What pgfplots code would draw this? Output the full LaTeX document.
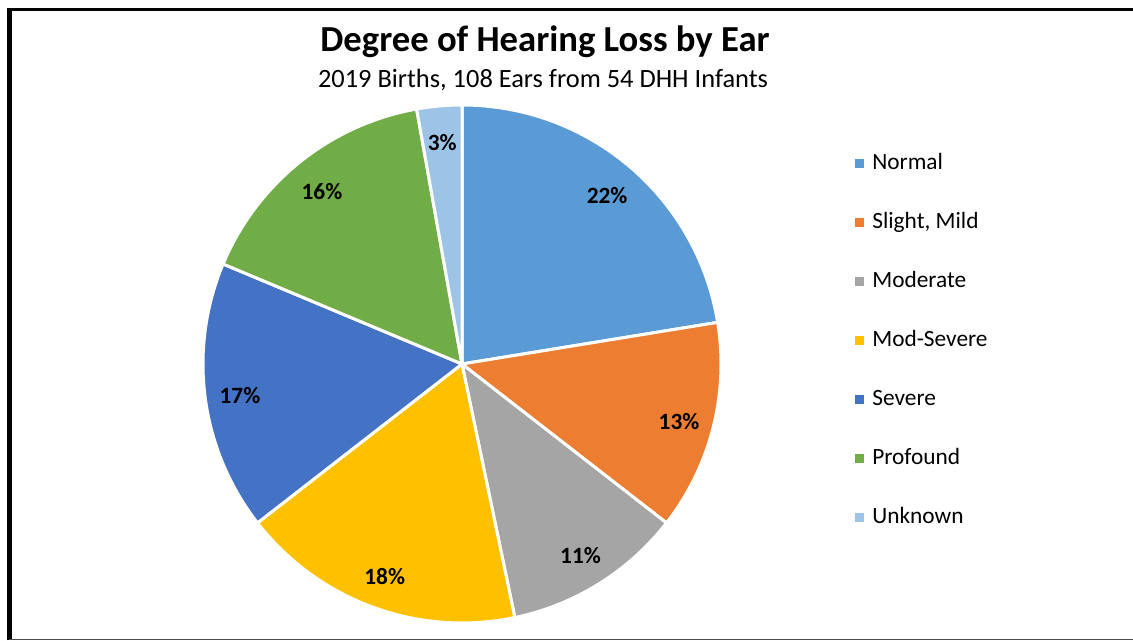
\documentclass[border=0pt]{standalone}
\usepackage{pgfplots}
\pgfplotsset{compat=1.18}
\usepackage{pgfplotstable}
\usepackage{fontspec}
\setmainfont{Carlito}
\definecolor{cNormal}{HTML}{5B9BD5}
\definecolor{cSlight}{HTML}{ED7D31}
\definecolor{cModerate}{HTML}{A5A5A5}
\definecolor{cModSevere}{HTML}{FFC000}
\definecolor{cSevere}{HTML}{4472C4}
\definecolor{cProfound}{HTML}{70AD47}
\definecolor{cUnknown}{HTML}{9DC3E6}
\newcommand\lblfont{\fontsize{17.5}{20}\selectfont}

% number of ears in each category
\pgfplotstableread[col sep=semicolon]{
name;ears;col
Normal;24;cNormal
Slight, Mild;14;cSlight
Moderate;12;cModerate
Mod-Severe;19;cModSevere
Severe;18;cSevere
Profound;17;cProfound
Unknown;3;cUnknown
}\piedata

\begin{document}
\begin{tikzpicture}
\begin{axis}[
  scale only axis, width=849.75pt, height=480pt,
  xmin=0, xmax=1133, ymin=0, ymax=640,
  hide axis, clip=false,
  legend image code/.code={\fill[#1,draw=none] (0pt,-3.4pt) rectangle (6.8pt,3.4pt);},
  legend style={draw=none, fill=none, at={(axis cs:855,486.7)}, anchor=north west,
    font=\lblfont, legend cell align=left, row sep=28.75pt, column sep=6pt, inner sep=0pt,
    nodes={inner sep=0pt, text height=12pt, text depth=3.5pt}},
]
\coordinate (SW) at (rel axis cs:0,0);
\coordinate (NE) at (rel axis cs:1,1);
\pgfplotstablegetrowsof{\piedata}
\pgfmathtruncatemacro\N{\pgfplotsretval-1}
\gdef\total{0}
\pgfplotsforeachungrouped \i in {0,...,\N}{%
  \pgfplotstablegetelem{\i}{ears}\of\piedata
  \pgfmathsetmacro\tmp{\total+\pgfplotsretval}%
  \xdef\total{\tmp}%
}
\gdef\cum{90}
\pgfplotsforeachungrouped \i in {0,...,\N}{%
  \pgfplotstablegetelem{\i}{ears}\of\piedata \let\cnt\pgfplotsretval
  \pgfplotstablegetelem{\i}{name}\of\piedata \let\nm\pgfplotsretval
  \pgfplotstablegetelem{\i}{col}\of\piedata \let\cl\pgfplotsretval
  \pgfmathsetmacro\startang{\cum}%
  \pgfmathsetmacro\endang{\cum-360*\cnt/\total}%
  \pgfmathsetmacro\midang{(\startang+\endang)/2}%
  \pgfmathsetmacro\lx{462+224*cos(\midang)}%
  \pgfmathsetmacro\ly{274+224*sin(\midang)}%
  \pgfmathtruncatemacro\pct{round(100*\cnt/\total)}%
  \edef\doslice{%
    \noexpand\addplot[fill=\cl, draw=white, line width=2.25pt, line join=round,
      domain=\endang:\startang, samples=120]
      ({462+259*cos(x)},{276+259*sin(x)}) -- (axis cs:462,276) -- cycle;
    \noexpand\addlegendentry{\nm}
    \noexpand\node[font=\noexpand\bfseries\noexpand\lblfont] at (axis cs:\lx,\ly) {\pct\noexpand\%};
  }%
  \doslice
  \xdef\cum{\endang}%
}
\node[font=\bfseries\fontsize{27.5}{32}\selectfont, anchor=base] at (axis cs:545,588) {Degree of Hearing Loss by Ear};
\node[font=\fontsize{19.8}{23}\selectfont, anchor=base] at (axis cs:543,552.5) {2019 Births, 108 Ears from 54 DHH Infants};
\draw[line width=3.4pt] (axis cs:9.3,0) -- (axis cs:9.3,630.5);
\draw[line width=2.25pt] (axis cs:7,630.5) -- (axis cs:1133,630.5);
\draw[line width=0.75pt, black!70] (axis cs:9.3,0.5) -- (axis cs:1133,0.5);
\end{axis}
\pgfresetboundingbox
\useasboundingbox (SW) rectangle (NE);
\end{tikzpicture}
\end{document}
